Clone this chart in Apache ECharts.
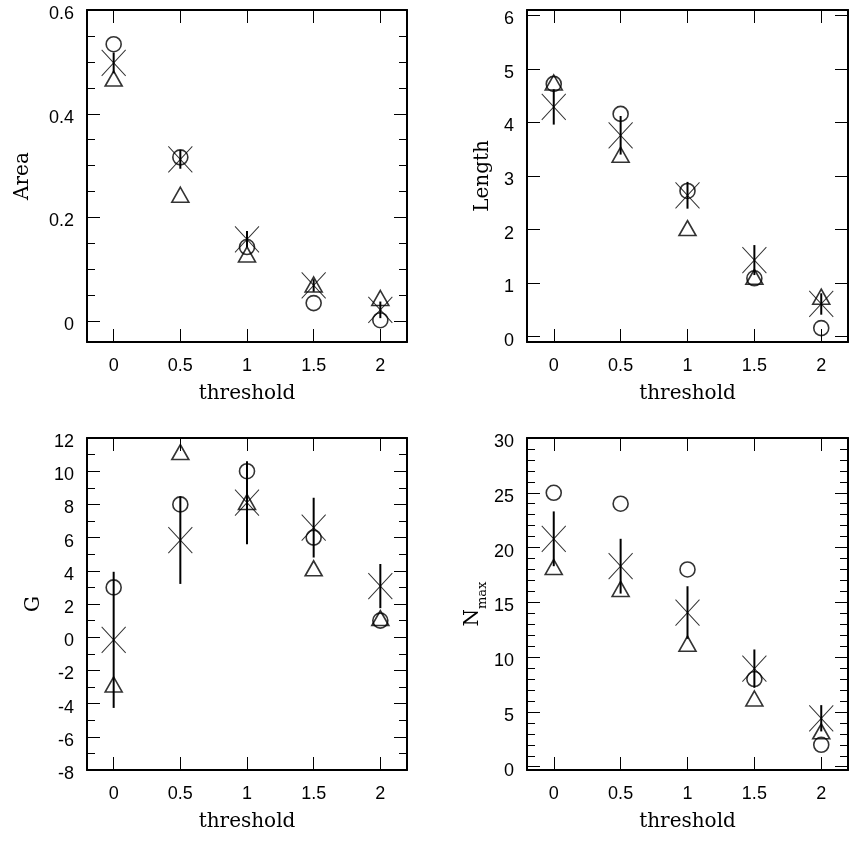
<!DOCTYPE html>
<html>
<head>
<meta charset="utf-8">
<script src="https://cdn.jsdelivr.net/npm/echarts@6/dist/echarts.min.js"></script>
<style>
  html, body { margin: 0; padding: 0; background: #fff; }
  #chart { width: 851px; height: 846px; }
</style>
</head>
<body>
<div id="chart"></div>
<script>
// Threshold values shared by all four panels
const thresholds = [0, 0.5, 1, 1.5, 2];
const xTickValues = [0, 0.5, 1, 1.5, 2];

// Area
const areaCircle = [0.534, 0.316, 0.143, 0.035, 0.002];
const areaTriangle = [0.463, 0.239, 0.124, 0.066, 0.040];
const areaMean = [0.498, 0.312, 0.158, 0.069, 0.022];
const areaErr = [0.02, 0.018, 0.016, 0.012, 0.016];
const areaTicks = [0, 0.2, 0.4, 0.6];
const areaMinorTicks = [0.05, 0.1, 0.15, 0.25, 0.3, 0.35, 0.45, 0.5, 0.55];

// Length
const lengthCircle = [4.72, 4.16, 2.72, 1.09, 0.16];
const lengthTriangle = [4.70, 3.35, 1.98, 1.07, 0.70];
const lengthMean = [4.29, 3.76, 2.64, 1.43, 0.61];
const lengthErr = [0.33, 0.36, 0.25, 0.28, 0.2];
const lengthTicks = [0, 1, 2, 3, 4, 5, 6];
const lengthMinorTicks = [];

// G
const gCircle = [3, 8, 10, 6, 1];
const gTriangle = [-3, 11, 8, 4, 1];
const gMean = [-0.16, 5.85, 8.1, 6.6, 3.08];
const gErr = [4.1, 2.64, 2.5, 1.8, 1.33];
const gTicks = [-8, -6, -4, -2, 0, 2, 4, 6, 8, 10, 12];
const gMinorTicks = [-7, -5, -3, -1, 1, 3, 5, 7, 9, 11];

// N_max
const nmaxCircle = [25, 24, 18, 8, 2];
const nmaxTriangle = [18, 16, 11, 6, 3];
const nmaxMean = [20.8, 18.3, 14.07, 8.95, 4.42];
const nmaxErr = [2.5, 2.5, 2.4, 1.75, 1.2];
const nmaxTicks = [0, 5, 10, 15, 20, 25, 30];
const nmaxMinorTicks = [1, 2, 3, 4, 6, 7, 8, 9, 11, 12, 13, 14, 16, 17, 18, 19, 21, 22, 23, 24, 26, 27, 28, 29];

const labelFont = 'Liberation Sans';
const titleFont = 'DejaVu Serif';

const panels = [
  { grid: { left: 87, top: 10, width: 320, height: 332 }, yMin: -0.04, yMax: 0.6,
    major: areaTicks, minor: areaMinorTicks, name: 'Area', nameGap: 54,
    circle: areaCircle, triangle: areaTriangle, mean: areaMean, err: areaErr },
  { grid: { left: 527, top: 10, width: 321, height: 332 }, yMin: -0.1, yMax: 6.1,
    major: lengthTicks, minor: lengthMinorTicks, name: 'Length', nameGap: 34,
    circle: lengthCircle, triangle: lengthTriangle, mean: lengthMean, err: lengthErr },
  { grid: { left: 87, top: 438, width: 320, height: 332 }, yMin: -8, yMax: 12,
    major: gTicks, minor: gMinorTicks, name: 'G', nameGap: 43,
    circle: gCircle, triangle: gTriangle, mean: gMean, err: gErr },
  { grid: { left: 527, top: 438, width: 321, height: 332 }, yMin: -0.3, yMax: 30,
    major: nmaxTicks, minor: nmaxMinorTicks, name: '{n|N}{s|max}', nameGap: 43,
    circle: nmaxCircle, triangle: nmaxTriangle, mean: nmaxMean, err: nmaxErr }
];

const boxLine = { onZero: false, lineStyle: { color: '#000', width: 2 } };
const tickLine = { color: '#000', width: 1 };

const grids = [], xAxes = [], yAxes = [], series = [];

panels.forEach((p, g) => {
  grids.push(Object.assign({ show: false }, p.grid));

  const xBase = {
    gridIndex: g, type: 'value', min: -0.2, max: 2.2,
    splitLine: { show: false }, axisLine: boxLine,
    axisTick: { inside: true, length: 13, customValues: xTickValues, lineStyle: tickLine }
  };
  xAxes.push(Object.assign({}, xBase, {
    position: 'bottom',
    axisLabel: { customValues: xTickValues, margin: 15, color: '#000', fontFamily: labelFont, fontSize: 18 },
    name: 'threshold', nameLocation: 'middle', nameGap: 42,
    nameTextStyle: { color: '#000', fontFamily: titleFont, fontSize: 20 }
  }));
  xAxes.push(Object.assign({}, xBase, { position: 'top', axisLabel: { show: false } }));

  const yBase = {
    gridIndex: g, type: 'value', min: p.yMin, max: p.yMax, splitLine: { show: false }
  };
  // left axis with labels and title; labels sit a little below their ticks
  yAxes.push(Object.assign({}, yBase, {
    position: 'left', axisLine: boxLine,
    axisTick: { inside: true, length: 13, customValues: p.major, lineStyle: tickLine },
    axisLabel: { customValues: p.major, margin: 13, color: '#000', fontFamily: labelFont, fontSize: 18,
                 verticalAlign: 'top', lineHeight: 8 },
    name: p.name, nameLocation: 'middle', nameGap: p.nameGap,
    nameTextStyle: {
      color: '#000', fontFamily: titleFont, fontSize: 20,
      rich: {
        n: { fontFamily: titleFont, fontSize: 20, lineHeight: 21, verticalAlign: 'top', color: '#000' },
        s: { fontFamily: titleFont, fontSize: 13, lineHeight: 13, verticalAlign: 'top', padding: [13, 0, 0, 0], color: '#000' }
      }
    }
  }));
  // right mirror axis
  yAxes.push(Object.assign({}, yBase, {
    position: 'right', axisLine: boxLine, axisLabel: { show: false },
    axisTick: { inside: true, length: 13, customValues: p.major, lineStyle: tickLine }
  }));
  // minor ticks, left and right
  ['left', 'right'].forEach(pos => {
    yAxes.push(Object.assign({}, yBase, {
      position: pos, axisLine: { show: false, onZero: false }, axisLabel: { show: false },
      axisTick: p.minor.length
        ? { inside: true, length: 8, customValues: p.minor, lineStyle: tickLine }
        : { show: false }
    }));
  });

  const xi = 2 * g, yi = 4 * g;

  // vertical error bars around the mean
  series.push({
    type: 'custom', xAxisIndex: xi, yAxisIndex: yi, silent: true,
    data: thresholds.map((t, i) => [t, p.mean[i] - p.err[i], p.mean[i] + p.err[i]]),
    encode: { x: 0, y: [1, 2] },
    renderItem: (params, api) => {
      const lo = api.coord([api.value(0), api.value(1)]);
      const hi = api.coord([api.value(0), api.value(2)]);
      return {
        type: 'line',
        shape: { x1: lo[0], y1: lo[1], x2: hi[0], y2: hi[1] },
        style: { stroke: '#000', lineWidth: 2 }
      };
    }
  });
  // mean (cross)
  series.push({
    type: 'scatter', xAxisIndex: xi, yAxisIndex: yi, silent: true,
    symbol: 'path://M0 0L24 26M24 0L0 26', symbolSize: [24, 26],
    itemStyle: { color: 'rgba(0,0,0,0)', borderColor: '#000', borderWidth: 1 },
    data: thresholds.map((t, i) => [t, p.mean[i]])
  });
  // open circles
  series.push({
    type: 'scatter', xAxisIndex: xi, yAxisIndex: yi, silent: true,
    symbol: 'circle', symbolSize: 15,
    itemStyle: { color: 'rgba(0,0,0,0)', borderColor: '#000', borderWidth: 1.6 },
    data: thresholds.map((t, i) => [t, p.circle[i]])
  });
  // open triangles
  series.push({
    type: 'scatter', xAxisIndex: xi, yAxisIndex: yi, silent: true,
    symbol: 'triangle', symbolSize: [17, 15], symbolOffset: [0, -2.5],
    itemStyle: { color: 'rgba(0,0,0,0)', borderColor: '#000', borderWidth: 1.6 },
    data: thresholds.map((t, i) => [t, p.triangle[i]])
  });
});

const chart = echarts.init(document.getElementById('chart'), null, { renderer: 'canvas' });
chart.setOption({
  animation: false,
  backgroundColor: '#fff',
  grid: grids,
  xAxis: xAxes,
  yAxis: yAxes,
  series: series
});
</script>
</body>
</html>
